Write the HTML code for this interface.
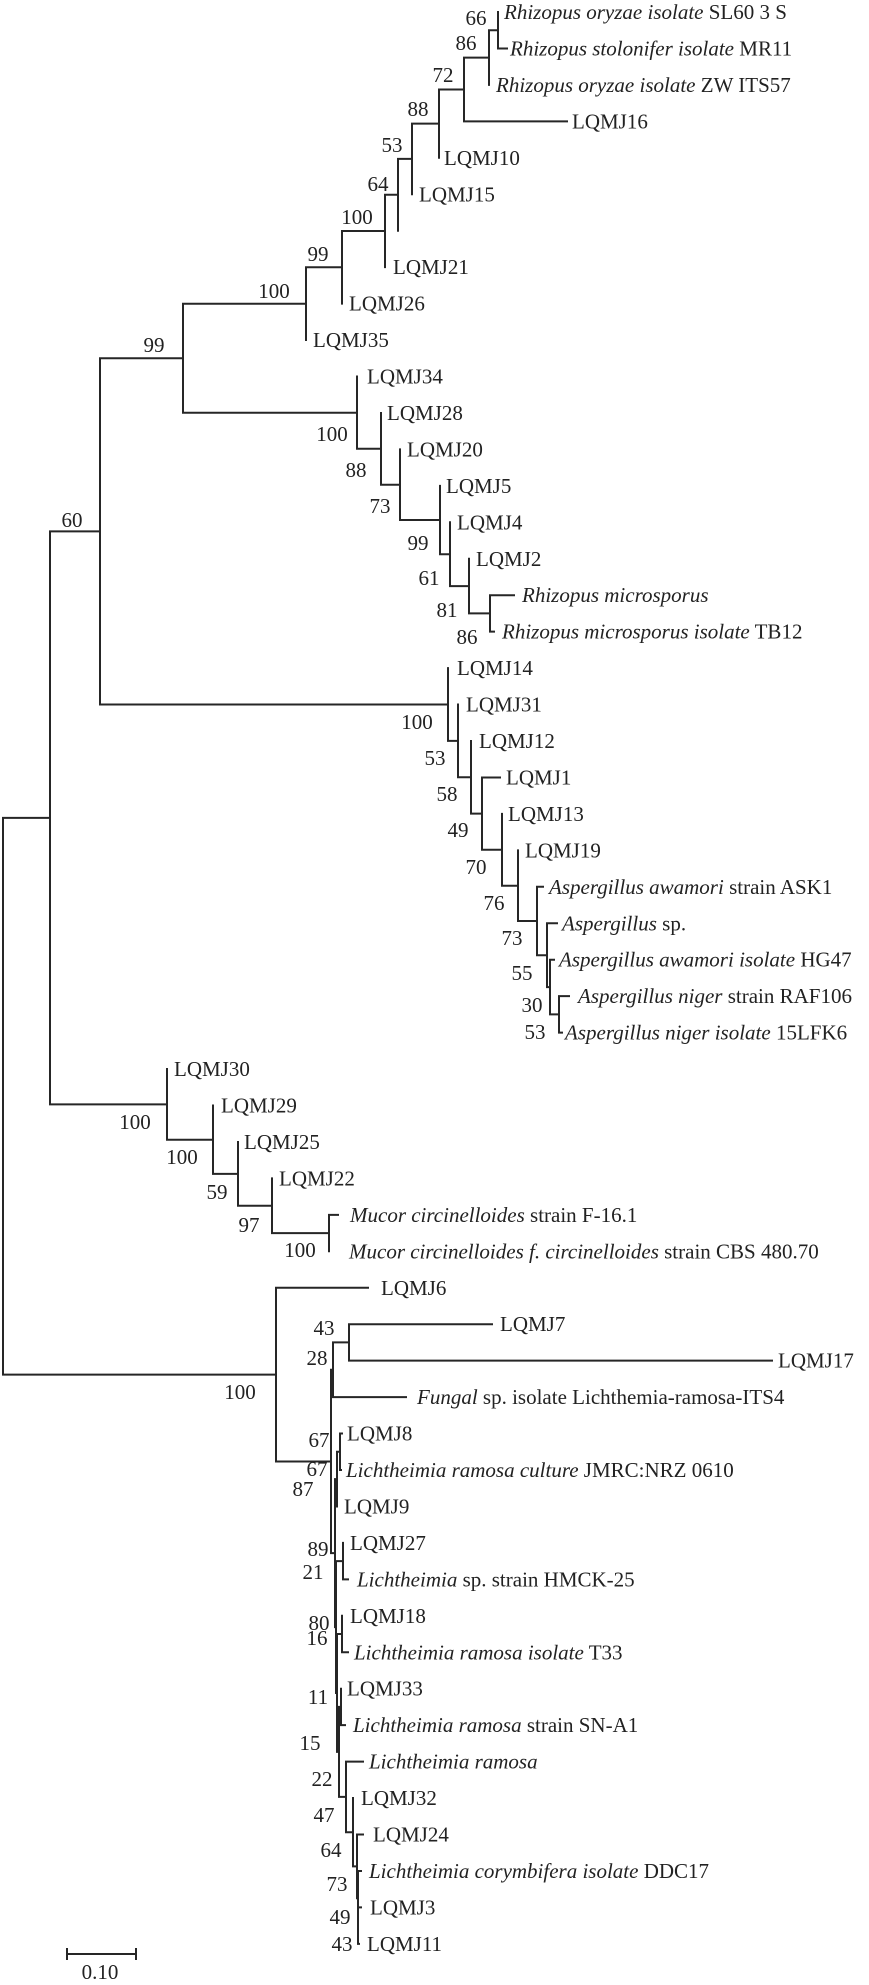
<!DOCTYPE html>
<html><head><meta charset="utf-8"><style>
html,body{margin:0;padding:0;background:#fff;}
svg{display:block;}
text{font-family:"Liberation Serif",serif;font-size:21px;fill:#222;}
.b{text-anchor:middle;}
.i{font-style:italic;}
</style></head><body>
<svg width="869" height="1985" viewBox="0 0 869 1985" xmlns="http://www.w3.org/2000/svg">
<g fill="none" stroke="#262626" stroke-width="2" stroke-linecap="square">
<path d="M3 817.9V1374.6M3 817.9H50M3 1374.6H276"/>
<path d="M50 531.4V1104.4M50 531.4H100M50 1104.4H167"/>
<path d="M100 358.2V704.5M100 358.2H183M100 704.5H448"/>
<path d="M183 303.7V412.7M183 303.7H306M183 412.7H357"/>
<path d="M306 267.3V340M306 267.3H342"/>
<path d="M342 231V303.6M342 231H385"/>
<path d="M385 194.8V267.15M385 194.8H398"/>
<path d="M398 158.9V230.7M398 158.9H412"/>
<path d="M412 123.6V194.25M412 123.6H439"/>
<path d="M439 89.5V157.8M439 89.5H464"/>
<path d="M464 57.6V121.35M464 57.6H489M464 121.35H567"/>
<path d="M489 30.2V84.9M489 30.2H498"/>
<path d="M498 12V48.45H507"/>
<path d="M357 376.5V448.8H381"/>
<path d="M381 412.95V484.7H400"/>
<path d="M400 449.4V520H440"/>
<path d="M440 485.85V554.2H450"/>
<path d="M450 522.3V586.1H469"/>
<path d="M469 558.75V613.4H490"/>
<path d="M490 595.2V631.65H494M490 595.2H514"/>
<path d="M448 668.1V740.9H458"/>
<path d="M458 704.55V777.3H471"/>
<path d="M471 741V813.6H482"/>
<path d="M482 777.45H500M482 777.45V849.8H502"/>
<path d="M502 813.9V885.7H518"/>
<path d="M518 850.35V921H537"/>
<path d="M537 886.8H543M537 886.8V955.2H547"/>
<path d="M547 923.25H557M547 923.25V987.1H550"/>
<path d="M550 959.7H554M550 959.7V1014.4H559"/>
<path d="M559 996.15H569M559 996.15V1032.6H562"/>
<path d="M167 1069.05V1139.7H213"/>
<path d="M213 1105.5V1173.9H238"/>
<path d="M238 1141.95V1205.8H272"/>
<path d="M272 1178.4V1233.1H329"/>
<path d="M329 1214.85H338M329 1214.85V1251.3"/>
<path d="M276 1287.75H368M276 1287.75V1461.5H331"/>
<path d="M331 1369.8V1553.1M331 1369.8H333M331 1553.1H335"/>
<path d="M333 1342.4V1397.1H406M333 1342.4H349"/>
<path d="M349 1324.2H492M349 1324.2V1360.65H772"/>
<path d="M335 1479.1V1627.1M335 1479.1H337M335 1627.1H336"/>
<path d="M337 1451.8V1506.45M337 1451.8H340"/>
<path d="M340 1433.55H342M340 1433.55V1470H341"/>
<path d="M336 1561.1V1693M336 1561.1H343M336 1693H337"/>
<path d="M343 1542.9V1579.35H348"/>
<path d="M337 1634V1751.9M337 1634H342M337 1751.9H339"/>
<path d="M342 1615.8V1652.25H348"/>
<path d="M339 1706.9V1796.9M339 1706.9H341M339 1796.9H346"/>
<path d="M341 1688.7V1725.15H345"/>
<path d="M346 1761.6H363M346 1761.6V1832.2H353"/>
<path d="M353 1798.05V1866.4H357"/>
<path d="M357 1834.5H363M357 1834.5V1898.3H358"/>
<path d="M358 1870.95H361M358 1870.95V1943.85H359M358 1907.4H361"/>
<path d="M67 1954H136M67 1949V1959M136 1949V1959"/>
</g>
<g>
<text x="504" y="19"><tspan class="i">Rhizopus oryzae isolate</tspan> SL60 3 S</text>
<text x="510" y="55.5"><tspan class="i">Rhizopus stolonifer isolate</tspan> MR11</text>
<text x="496" y="92"><tspan class="i">Rhizopus oryzae isolate</tspan> ZW ITS57</text>
<text x="572" y="128.4">LQMJ16</text>
<text x="444" y="164.8">LQMJ10</text>
<text x="419" y="201.3">LQMJ15</text>
<text x="393" y="274.2">LQMJ21</text>
<text x="349" y="310.6">LQMJ26</text>
<text x="313" y="347">LQMJ35</text>
<text x="367" y="383.5">LQMJ34</text>
<text x="387" y="420">LQMJ28</text>
<text x="407" y="456.4">LQMJ20</text>
<text x="446" y="492.9">LQMJ5</text>
<text x="457" y="529.3">LQMJ4</text>
<text x="476" y="565.8">LQMJ2</text>
<text x="522" y="602.2" class="i">Rhizopus microsporus</text>
<text x="502" y="638.7"><tspan class="i">Rhizopus microsporus isolate</tspan> TB12</text>
<text x="457" y="675.1">LQMJ14</text>
<text x="466" y="711.6">LQMJ31</text>
<text x="479" y="748">LQMJ12</text>
<text x="506" y="784.5">LQMJ1</text>
<text x="508" y="820.9">LQMJ13</text>
<text x="525" y="857.4">LQMJ19</text>
<text x="549" y="893.8"><tspan class="i">Aspergillus awamori</tspan> strain ASK1</text>
<text x="562" y="930.3"><tspan class="i">Aspergillus</tspan> sp.</text>
<text x="559" y="966.7"><tspan class="i">Aspergillus awamori isolate</tspan> HG47</text>
<text x="578" y="1003.2"><tspan class="i">Aspergillus niger</tspan> strain RAF106</text>
<text x="565" y="1039.6"><tspan class="i">Aspergillus niger isolate</tspan> 15LFK6</text>
<text x="174" y="1076">LQMJ30</text>
<text x="221" y="1112.5">LQMJ29</text>
<text x="244" y="1149">LQMJ25</text>
<text x="279" y="1185.4">LQMJ22</text>
<text x="350" y="1221.9"><tspan class="i">Mucor circinelloides</tspan> strain F-16.1</text>
<text x="349" y="1258.3"><tspan class="i">Mucor circinelloides f. circinelloides</tspan> strain CBS 480.70</text>
<text x="381" y="1294.8">LQMJ6</text>
<text x="500" y="1331.2">LQMJ7</text>
<text x="778" y="1367.7">LQMJ17</text>
<text x="417" y="1404.1"><tspan class="i">Fungal</tspan> sp. isolate Lichthemia-ramosa-ITS4</text>
<text x="347" y="1440.6">LQMJ8</text>
<text x="346" y="1477"><tspan class="i">Lichtheimia ramosa culture</tspan> JMRC:NRZ 0610</text>
<text x="344" y="1513.5">LQMJ9</text>
<text x="350" y="1549.9">LQMJ27</text>
<text x="357" y="1586.4"><tspan class="i">Lichtheimia</tspan> sp. strain HMCK-25</text>
<text x="350" y="1622.8">LQMJ18</text>
<text x="354" y="1659.3"><tspan class="i">Lichtheimia ramosa isolate</tspan> T33</text>
<text x="347" y="1695.7">LQMJ33</text>
<text x="353" y="1732.2"><tspan class="i">Lichtheimia ramosa</tspan> strain SN-A1</text>
<text x="369" y="1768.6" class="i">Lichtheimia ramosa</text>
<text x="361" y="1805.1">LQMJ32</text>
<text x="373" y="1841.5">LQMJ24</text>
<text x="369" y="1878"><tspan class="i">Lichtheimia corymbifera isolate</tspan> DDC17</text>
<text x="370" y="1914.4">LQMJ3</text>
<text x="367" y="1950.9">LQMJ11</text>
</g>
<g class="b">
<text class="b" x="476" y="25">66</text>
<text class="b" x="466" y="50">86</text>
<text class="b" x="443" y="82">72</text>
<text class="b" x="418" y="116">88</text>
<text class="b" x="392" y="152">53</text>
<text class="b" x="378" y="191">64</text>
<text class="b" x="357" y="224">100</text>
<text class="b" x="318" y="261">99</text>
<text class="b" x="274" y="298">100</text>
<text class="b" x="154" y="352">99</text>
<text class="b" x="72" y="527">60</text>
<text class="b" x="332" y="441">100</text>
<text class="b" x="356" y="477">88</text>
<text class="b" x="380" y="513">73</text>
<text class="b" x="418" y="550">99</text>
<text class="b" x="429" y="585">61</text>
<text class="b" x="447" y="617">81</text>
<text class="b" x="467" y="644">86</text>
<text class="b" x="417" y="729">100</text>
<text class="b" x="435" y="765">53</text>
<text class="b" x="447" y="801">58</text>
<text class="b" x="458" y="837">49</text>
<text class="b" x="476" y="874">70</text>
<text class="b" x="494" y="910">76</text>
<text class="b" x="512" y="945">73</text>
<text class="b" x="522" y="980">55</text>
<text class="b" x="532" y="1012">30</text>
<text class="b" x="535" y="1039">53</text>
<text class="b" x="135" y="1129">100</text>
<text class="b" x="182" y="1164">100</text>
<text class="b" x="217" y="1199">59</text>
<text class="b" x="249" y="1232">97</text>
<text class="b" x="300" y="1257">100</text>
<text class="b" x="240" y="1399">100</text>
<text class="b" x="324" y="1335">43</text>
<text class="b" x="317" y="1365">28</text>
<text class="b" x="319" y="1447">67</text>
<text class="b" x="317" y="1476">67</text>
<text class="b" x="303" y="1496">87</text>
<text class="b" x="318" y="1556">89</text>
<text class="b" x="313" y="1579">21</text>
<text class="b" x="319" y="1630">80</text>
<text class="b" x="317" y="1645">16</text>
<text class="b" x="318" y="1704">11</text>
<text class="b" x="310" y="1750">15</text>
<text class="b" x="322" y="1786">22</text>
<text class="b" x="324" y="1822">47</text>
<text class="b" x="331" y="1857">64</text>
<text class="b" x="337" y="1891">73</text>
<text class="b" x="340" y="1924">49</text>
<text class="b" x="342" y="1951">43</text>
<text class="b" x="100" y="1979">0.10</text>
</g>
</svg>
</body></html>
